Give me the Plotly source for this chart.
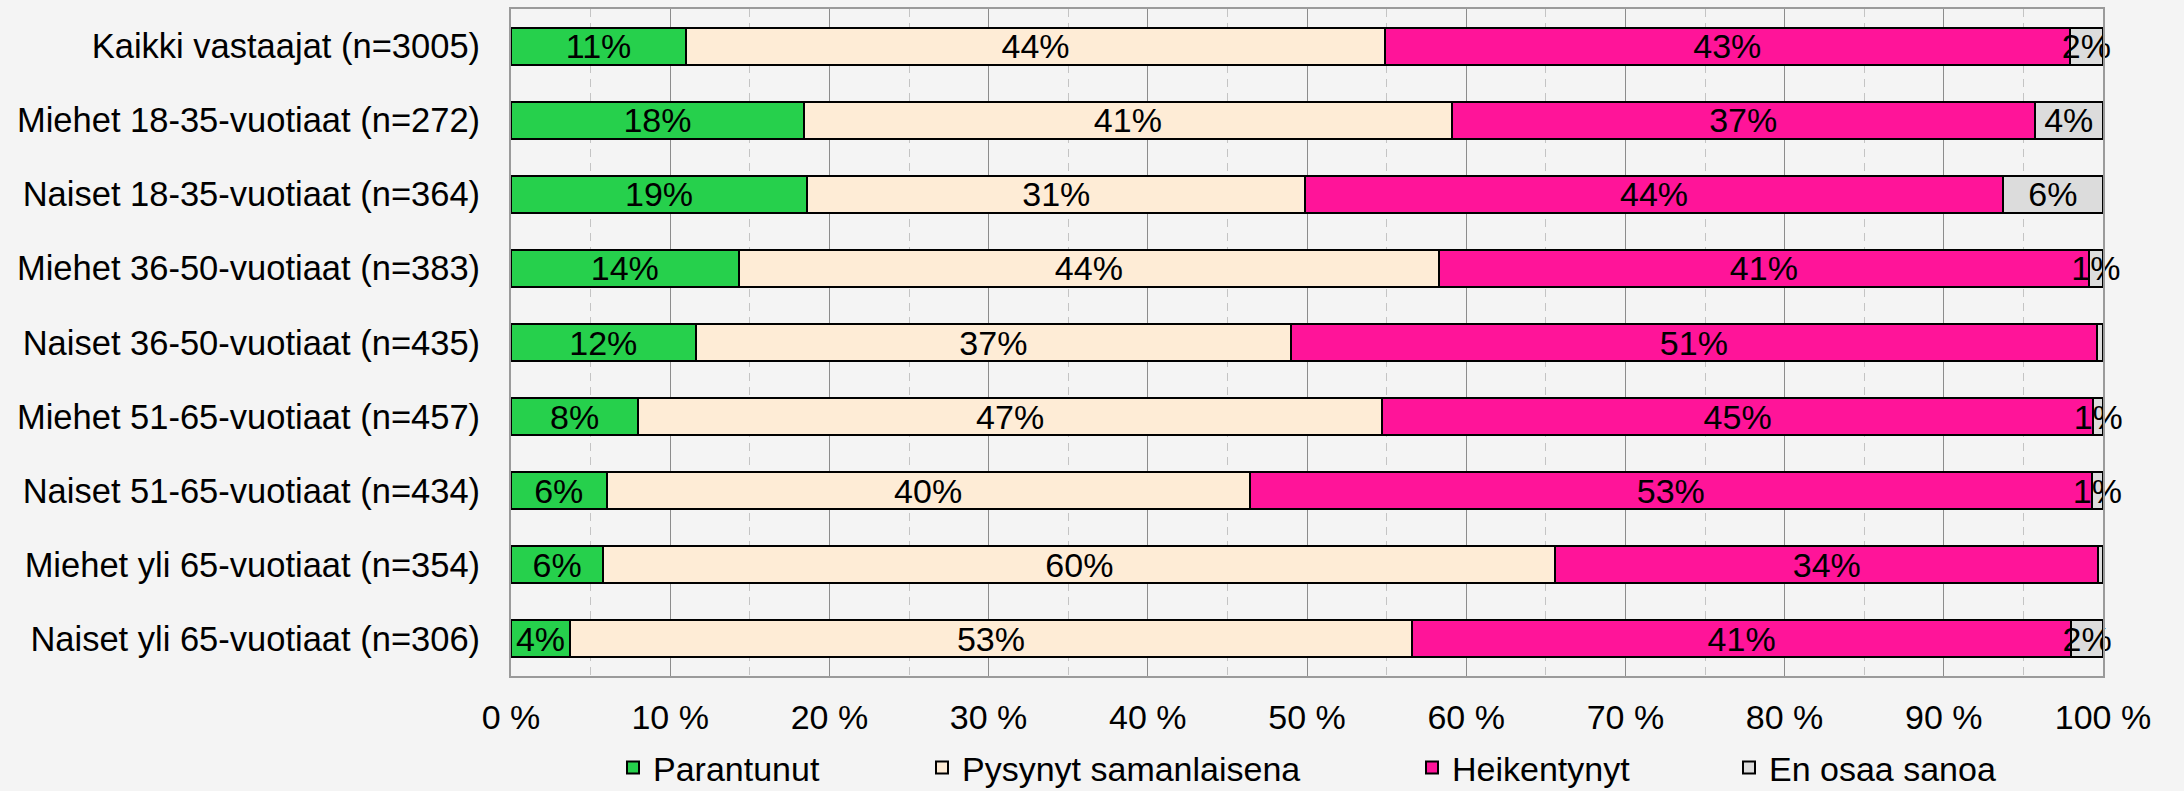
import plotly.graph_objects as go

categories = [
    "Kaikki vastaajat (n=3005)",
    "Miehet 18-35-vuotiaat (n=272)",
    "Naiset 18-35-vuotiaat (n=364)",
    "Miehet 36-50-vuotiaat (n=383)",
    "Naiset 36-50-vuotiaat (n=435)",
    "Miehet 51-65-vuotiaat (n=457)",
    "Naiset 51-65-vuotiaat (n=434)",
    "Miehet yli 65-vuotiaat (n=354)",
    "Naiset yli 65-vuotiaat (n=306)",
]

parantunut = [11.0, 18.4, 18.6, 14.3, 11.6, 8.0, 6.0, 5.8, 3.7]
pysynyt = [43.9, 40.7, 31.3, 44.0, 37.4, 46.7, 40.4, 59.8, 52.9]
heikentynyt = [43.0, 36.6, 43.8, 40.8, 50.6, 44.7, 52.9, 34.1, 41.4]
en_osaa = [2.1, 4.3, 6.3, 0.9, 0.4, 0.6, 0.7, 0.3, 2.0]

series_names = ["Parantunut", "Pysynyt samanlaisena", "Heikentynyt", "En osaa sanoa"]
series_values = [parantunut, pysynyt, heikentynyt, en_osaa]
colors = ["#26d04c", "#feecd6", "#ff1499", "#dcdcdc"]

tick_vals = [0, 10, 20, 30, 40, 50, 60, 70, 80, 90, 100]
tick_text = ["0 %", "10 %", "20 %", "30 %", "40 %", "50 %", "60 %", "70 %", "80 %", "90 %", "100 %"]

W, H = 2184, 791
FONT = "Liberation Sans, Arial, sans-serif"
FS = 34

# legend text start positions (px) for the four separate legend boxes
legend_text_x = [653, 962, 1452, 1769]
legend_y_px = 768

fig = go.Figure()
legend_ids = ["legend", "legend2", "legend3", "legend4"]
for name, vals, col, lid in zip(series_names, series_values, colors, legend_ids):
    texts = [f"{v:.0f}%" if v >= 0.5 else "" for v in vals]
    fig.add_trace(go.Bar(
        y=categories, x=vals, name=name, orientation="h",
        marker=dict(color=col, line=dict(color="black", width=2)),
        text=texts, textposition="inside", insidetextanchor="middle",
        textangle=0, constraintext="none", cliponaxis=False,
        textfont=dict(family=FONT, size=FS, color="black"),
        legend=lid, hoverinfo="skip",
    ))

legend_common = dict(
    orientation="h", xref="container", yref="container",
    xanchor="left", yanchor="middle", bgcolor="rgba(0,0,0,0)",
    font=dict(family=FONT, size=FS, color="black"),
    borderwidth=0, itemclick=False,
)
legends = {}
for lid, tx in zip(legend_ids, legend_text_x):
    legends[lid] = dict(legend_common, x=(tx - 40) / W, y=1 - legend_y_px / H)

fig.update_layout(
    width=W, height=H, autosize=False,
    barmode="stack", bargap=0.5,
    paper_bgcolor="#f4f4f4", plot_bgcolor="#f4f4f4",
    margin=dict(l=511, r=81, t=9, b=115, pad=0, autoexpand=False),
    font=dict(family=FONT, size=FS, color="black"),
    uniformtext=dict(minsize=FS, mode="show"),
    showlegend=True,
    **legends,
)

fig.update_xaxes(
    range=[0, 100], tickmode="array", tickvals=tick_vals, ticktext=tick_text,
    showgrid=True, gridcolor="#8c8c8c", gridwidth=1,
    minor=dict(dtick=5, showgrid=True, gridcolor="#c4c4c4", griddash="8px,6px", gridwidth=1),
    showline=True, linecolor="#9a9a9a", linewidth=2, mirror=True,
    ticks="", zeroline=False, ticklabelstandoff=10, automargin=False,
    tickfont=dict(family=FONT, size=FS, color="black"),
)
fig.update_yaxes(
    autorange="reversed", showgrid=False,
    showline=True, linecolor="#9a9a9a", linewidth=2, mirror=True,
    ticks="", ticklabelstandoff=22, automargin=False,
    tickfont=dict(family=FONT, size=34.5, color="black"),
)

fig.write_html(
    "out.html",
    config={"displayModeBar": False},
    post_script="document.body.style.margin='0';document.body.style.overflow='hidden';",
)
